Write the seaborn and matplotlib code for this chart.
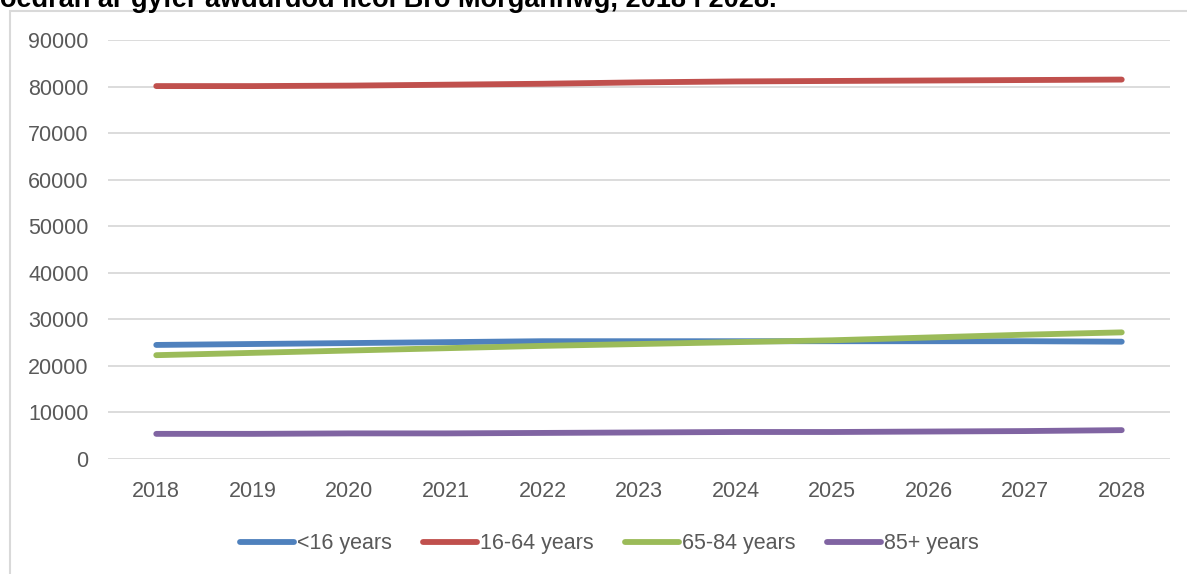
import pandas as pd
import matplotlib.pyplot as plt
import matplotlib.patches as mpatches
import seaborn as sns

# population projections by age group
years = [2018, 2019, 2020, 2021, 2022, 2023, 2024, 2025, 2026, 2027, 2028]
under_16 = [24500, 24700, 24900, 25100, 25300, 25300, 25300, 25300, 25300, 25300, 25200]
age_16_64 = [80100, 80100, 80200, 80400, 80600, 80900, 81100, 81200, 81300, 81400, 81500]
age_65_84 = [22300, 22800, 23300, 23800, 24300, 24700, 25100, 25500, 26100, 26700, 27200]
age_85_plus = [5400, 5400, 5500, 5500, 5600, 5700, 5800, 5800, 5900, 6000, 6200]

groups = ['<16 years', '16-64 years', '65-84 years', '85+ years']
colors = ['#4F81BD', '#C0504D', '#9BBB59', '#8064A2']
y_ticks = [0, 10000, 20000, 30000, 40000, 50000, 60000, 70000, 80000, 90000]

title = 'oedran ar gyfer awdurdod lleol Bro Morgannwg, 2018 i 2028.'

# long format for seaborn
df = pd.concat([
    pd.DataFrame({'year': years, 'population': vals, 'group': name})
    for name, vals in zip(groups, [under_16, age_16_64, age_65_84, age_85_plus])
])

sns.set_style('white')
plt.rcParams['font.family'] = ['Liberation Sans', 'DejaVu Sans']

fig = plt.figure(figsize=(11.87, 5.74), dpi=100)
W, H = 1187, 574

# chart frame (light grey border, cut at right/bottom)
frame = mpatches.Rectangle((10 / W, -0.1), 1.2, 1 - 11 / H + 0.1,
                           transform=fig.transFigure, fill=False,
                           edgecolor='#D9D9D9', linewidth=1.5)
fig.patches.append(frame)

ax = fig.add_axes([108 / W, (H - 459) / H, (1170 - 108) / W, (459 - 40) / H])
sns.lineplot(data=df, x='year', y='population', hue='group', hue_order=groups,
             palette=colors, linewidth=4.2, ax=ax, legend=False,
             solid_capstyle='round')

ax.set_xlim(2017.5, 2028.5)
ax.set_ylim(0, 90000)
ax.set_xticks(years)
ax.set_yticks(y_ticks)
ax.set_xticklabels([str(y) for y in years])
ax.set_xlabel('')
ax.set_ylabel('')
ax.grid(axis='y', color='#D9D9D9', linewidth=1.3)
ax.set_axisbelow(True)
for s in ax.spines.values():
    s.set_visible(False)
ax.tick_params(axis='both', length=0, labelsize=15.5, colors='#595959')
ax.tick_params(axis='y', pad=14)
ax.tick_params(axis='x', pad=16)

handles = [plt.Line2D([], [], color=c, linewidth=4.2, solid_capstyle='round')
           for c in colors]
fig.legend(handles, groups, loc='center', bbox_to_anchor=(0.5135, 1 - 544 / H),
           ncol=4, frameon=False, fontsize=15.5, labelcolor='#595959',
           handlelength=2.5, handletextpad=0.15, columnspacing=1.45)

# title, partly cut off at the top as in the source image
fig.text(0.0, 1 - 7 / H, title, fontsize=19.5, fontweight='bold', color='black',
         ha='left', va='baseline')

fig.savefig('out.png', dpi=100)
